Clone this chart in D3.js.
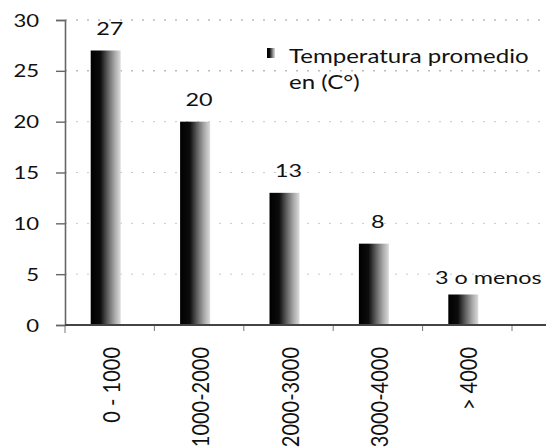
<!DOCTYPE html>
<html lang="es">
<head>
    <meta charset="UTF-8">
    <style>
        body { margin: 0; background: #fff; }
        text { font-family: Lato, "Open Sans", sans-serif; fill: #111; }
    </style>
</head>
<body>
    <script src="https://d3js.org/d3.v7.min.js"></script>
    <div id="chart"></div>

    <script>
        // datos
        const categories = ["0 - 1000", "1000-2000", "2000-3000", "3000-4000", "> 4000"];
        const temperatures = [27, 20, 13, 8, 3];
        const valueLabels = ["27", "20", "13", "8", "3 o menos"];
        const yTicks = [0, 5, 10, 15, 20, 25, 30];
        const legendLines = ["Temperatura promedio", "en (C°)"];

        const width = 546, height = 448;
        const plot = { left: 65, right: 512, top: 20, bottom: 325 };
        const sx = 1.3; // the scanned picture is stretched sideways

        const svg = d3.select("#chart")
            .append("svg")
                .attr("width", width)
                .attr("height", height);

        // bar gradient, black on the left fading to grey
        const grad = svg.append("defs").append("linearGradient")
            .attr("id", "barFill")
            .attr("x1", 0).attr("x2", 1).attr("y1", 0).attr("y2", 0);
        [[0, "#000"], [0.32, "#0c0c0c"], [0.55, "#5a5a5a"], [0.8, "#a8a8a8"], [1, "#dcdcdc"]]
            .forEach(([o, c]) => grad.append("stop").attr("offset", o).attr("stop-color", c));

        const x = d3.scaleBand()
            .domain(categories)
            .range([plot.left, plot.right]);

        const y = d3.scaleLinear()
            .domain([0, 30])
            .range([plot.bottom, plot.top]);

        // dotted gridlines
        svg.append("g")
            .selectAll("line")
            .data(yTicks.filter(d => d > 0))
            .join("line")
                .attr("x1", plot.left)
                .attr("x2", width)
                .attr("y1", d => y(d))
                .attr("y2", d => y(d))
                .attr("stroke", d => d >= 25 ? "#999" : "#c8c8c8")
                .attr("stroke-width", 1)
                .attr("stroke-dasharray", "2,9");

        // Y axis
        const yAxis = svg.append("g")
            .attr("transform", `translate(${plot.left},0)`)
            .call(d3.axisLeft(y).tickValues(yTicks).tickSize(9).tickPadding(0));
        yAxis.select(".domain").attr("stroke", "#666").attr("stroke-width", 1.6);
        yAxis.selectAll(".tick line").attr("stroke", "#666").attr("stroke-width", 1.4);
        yAxis.selectAll(".tick text")
            .attr("x", null).attr("dy", null)
            .attr("font-size", 17)
            .attr("text-anchor", "end")
            .attr("transform", `translate(-26,6) scale(${sx},1)`);

        // bars
        const barW = 30;
        svg.append("g")
            .selectAll("rect")
            .data(temperatures)
            .join("rect")
                .attr("x", (d, i) => x(categories[i]) + x.bandwidth() / 2 - 4 - barW / 2)
                .attr("y", d => y(d))
                .attr("width", barW)
                .attr("height", d => y(0) - y(d))
                .attr("fill", "url(#barFill)");

        // X axis
        const xAxis = svg.append("g")
            .attr("transform", `translate(0,${plot.bottom})`);
        xAxis.append("line")
            .attr("x1", plot.left).attr("x2", width)
            .attr("stroke", "#444").attr("stroke-width", 2);
        xAxis.selectAll(".tk")
            .data(d3.range(categories.length + 1))
            .join("line")
                .attr("class", "tk")
                .attr("x1", i => plot.left + i * x.step())
                .attr("x2", i => plot.left + i * x.step())
                .attr("y1", 1).attr("y2", i => i === 0 ? 8 : 6)
                .attr("stroke", "#777").attr("stroke-width", 1);
        xAxis.selectAll(".lbl")
            .data(categories)
            .join("text")
                .attr("class", "lbl")
                .attr("font-size", 20)
                .attr("text-anchor", "end")
                .attr("transform", d => `translate(${x(d) + x.bandwidth() / 2 + 1.5},22) scale(1.2,1) rotate(-90)`)
                .attr("dy", "0.36em")
                .text(d => d);

        // value labels
        svg.append("g")
            .selectAll("text")
            .data(temperatures)
            .join("text")
                .attr("font-size", 18)
                .attr("text-anchor", "middle")
                .attr("transform", (d, i) => {
                    const last = i === temperatures.length - 1;
                    const cx = x(categories[i]) + x.bandwidth() / 2 + (last ? 21 : 0);
                    const by = y(d) - (last ? 11 : 16);
                    return `translate(${cx},${by}) scale(${sx},1)`;
                })
                .text((d, i) => valueLabels[i]);

        // legend
        const legend = svg.append("g").attr("transform", "translate(267,48)");
        legend.append("rect")
            .attr("width", 8).attr("height", 10)
            .attr("fill", "url(#barFill)");
        legend.selectAll("text")
            .data(legendLines)
            .join("text")
                .attr("font-size", 18.5)
                .attr("transform", (d, i) => `translate(22,${15 + i * 26}) scale(${sx},1)`)
                .text(d => d);
    </script>
</body>
</html>
